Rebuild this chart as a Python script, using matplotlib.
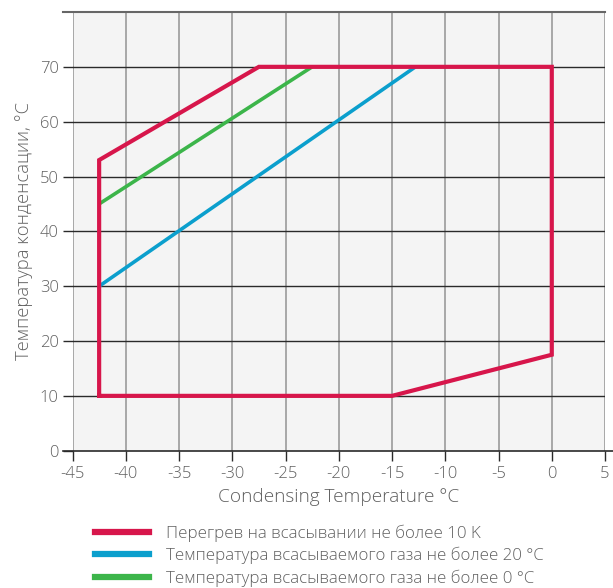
import numpy as np
import matplotlib
matplotlib.use("Agg")
import matplotlib.pyplot as plt
from matplotlib.lines import Line2D

plt.rcParams['font.family'] = ['Open Sans', 'DejaVu Sans']

# envelope boundary (evaporating temp, condensing temp)
red_x = [-42.5, -42.5, -27.5, 0, 0, -15, -42.5]
red_y = [10, 53, 70, 70, 17.5, 10, 10]
blue_x = [-42.5, -12.8]
blue_y = [30, 70]
green_x = [-42.5, -22.5]
green_y = [45, 70]

labels = ["Перегрев на всасывании не более 10 K",
          "Температура всасываемого газа не более 20 °C",
          "Температура всасываемого газа не более 0 °C"]

x_ticks = list(range(-45, 6, 5))
y_ticks = list(range(0, 71, 10))

red = '#d7164b'
blue = '#0b9fcd'
green = '#3cb54a'
txt = '#606060'

fig = plt.figure(figsize=(6.13, 5.88), dpi=100)
ax = fig.add_axes([0.1183, 0.2335, 0.8687, 0.7461])
ax.set_facecolor('#f4f4f4')
ax.set_xlim(-45, 5)
ax.set_ylim(0, 80)

for v in x_ticks:
    ax.axvline(v, color='#9a9a9a', lw=1.2, zorder=1)
for v in y_ticks[1:]:
    ax.axhline(v, color='#2a2a2a', lw=1.0, zorder=1)

ax.plot(blue_x, blue_y, color=blue, lw=2.6, solid_capstyle='butt', zorder=3)
ax.plot(green_x, green_y, color=green, lw=2.6, solid_capstyle='butt', zorder=3)
ax.plot(red_x, red_y, color=red, lw=3.0, solid_joinstyle='miter', zorder=4)

for s in ax.spines.values():
    s.set_visible(False)

# bottom and top border lines, extending past the axes
ax.add_line(Line2D([-0.017, 1.02], [0, 0], transform=ax.transAxes, color='#2a2a2a',
                   lw=1.2, clip_on=False, zorder=5))
ax.add_line(Line2D([-0.017, 1.0], [1, 1], transform=ax.transAxes, color='#666666',
                   lw=1.5, clip_on=False, zorder=5))

ax.set_xticks(x_ticks)
ax.set_xticklabels([str(v) for v in x_ticks])
ax.set_yticks(y_ticks)
ax.tick_params(axis='x', direction='out', length=7, width=1, color='#2a2a2a',
               labelsize=12, labelcolor=txt, pad=4)
ax.tick_params(axis='y', direction='out', length=7, width=1, color='#2a2a2a',
               labelsize=12, labelcolor=txt, pad=3)
for t in ax.get_xticklabels() + ax.get_yticklabels():
    t.set_fontweight('light')

ax.set_xlabel("Condensing Temperature °C", fontsize=13.7, color=txt, labelpad=4,
              fontweight='light')
ax.set_ylabel("Температура конденсации, °С", fontsize=13.2, color=txt, labelpad=5,
              fontweight='light')

handles = [Line2D([], [], color=c, lw=4.5) for c in (red, blue, green)]
leg = fig.legend(handles, labels, loc='upper left', bbox_to_anchor=(0.155, 0.108),
                 frameon=False, fontsize=12.2, handlelength=3.2, handletextpad=1.0,
                 labelspacing=0.3, borderaxespad=0, borderpad=0)
for t in leg.get_texts():
    t.set_color(txt)
    t.set_fontweight('light')

fig.savefig("out.png", dpi=100)
